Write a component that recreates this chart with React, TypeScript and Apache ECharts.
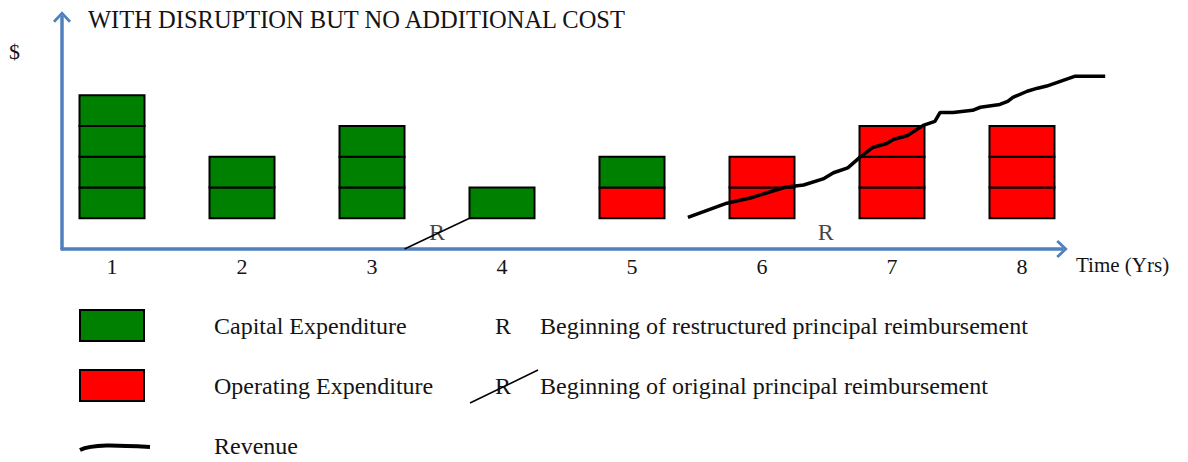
import React, { useEffect, useRef } from "react";
import * as echarts from "echarts";

// ---- data ----
const years = [1, 2, 3, 4, 5, 6, 7, 8];
const capitalBlocks = [4, 2, 3, 1, 1, 0, 0, 0];
const operatingBlocks = [0, 0, 0, 0, 1, 2, 3, 3];
const revenueX = [5.43, 5.73, 5.91, 6.19, 6.32, 6.47, 6.55, 6.66, 6.75, 6.85, 6.96, 7.01, 7.12, 7.24, 7.33, 7.37, 7.47, 7.62, 7.68, 7.83, 7.89, 7.93, 8.04, 8.12, 8.19, 8.41, 8.64];
const revenueY = [0.03, 0.49, 0.66, 1.02, 1.08, 1.28, 1.48, 1.64, 1.97, 2.3, 2.43, 2.56, 2.69, 3.02, 3.15, 3.44, 3.44, 3.51, 3.61, 3.7, 3.8, 3.93, 4.13, 4.23, 4.3, 4.62, 4.62];
const restructuredR = [6.49, -0.46];
const originalR = [3.5, -0.46];
const originalStrike = [[3.25, -1], [3.75, 0]];
const titleText = "WITH DISRUPTION BUT NO ADDITIONAL COST";
const xAxisName = "Time (Yrs)";
const legendLabels = ["Capital Expenditure", "Operating Expenditure", "Revenue"];
const rLabels = ["Beginning of restructured principal reimbursement", "Beginning of original principal reimbursement"];

const GREEN = "#008000";
const RED = "#FF0000";
const AXIS = "#4F81BD";
const TEXT = "#141414";
const FONT = "Liberation Serif";
const CHEVRON = "path://M0,0 L9,9.5 L7,11.5 L0,4 L-7,11.5 L-9,9.5 Z";
const LEG_FS = 24;

export default function App() {
  const ref = useRef<HTMLDivElement>(null);
  useEffect(() => {
    if (!ref.current) return;
    const chart = echarts.init(ref.current, undefined, { renderer: "svg" });
    const blockData = years.map((y, i) => [y, operatingBlocks[i], capitalBlocks[i]]);
    const axisLine = {
      show: true,
      onZero: false,
      symbol: ["none", CHEVRON],
      symbolSize: [18, 12],
      lineStyle: { color: AXIS, width: 3.5 },
    };
    const option: any = {
      animation: false,
      backgroundColor: "#ffffff",
      title: {
        text: titleText,
        left: 88,
        top: 7,
        padding: 0,
        textStyle: { fontFamily: FONT, fontSize: 24.5, fontWeight: "normal", color: TEXT },
      },
      grid: [
        { left: 62, right: 126, top: 17, bottom: 213 },
        // same scale, wider extent so the revenue curve can run past the arrow
        { left: 62, right: 78, top: 17, bottom: 213 },
      ],
      xAxis: [
        {
          type: "value",
          gridIndex: 0,
          min: 0.61538,
          max: 8.3077,
          name: xAxisName,
          nameLocation: "end",
          nameGap: 14,
          nameTextStyle: { fontFamily: FONT, fontSize: 21, color: TEXT, verticalAlign: "top", padding: [5, 0, 0, 0] },
          axisLine,
          axisTick: { show: false },
          splitLine: { show: false },
          axisLabel: { customValues: years, fontFamily: FONT, fontSize: 22, color: TEXT, margin: 6 },
        },
        {
          type: "value",
          gridIndex: 1,
          min: 0.61538,
          max: 0.61538 + 1048 / 130,
          show: false,
        },
      ],
      yAxis: [
        {
          type: "value",
          gridIndex: 0,
          min: -1,
          max: 6.545,
          axisLine,
          axisTick: { show: false },
          axisLabel: { show: false },
          splitLine: { show: false },
        },
        { type: "value", gridIndex: 1, min: -1, max: 6.545, show: false },
      ],
      series: [
        {
          type: "custom",
          name: "Expenditure",
          data: blockData,
          encode: { x: 0, y: 1 },
          z: 2,
          renderItem: (params: any, api: any) => {
            const x = api.value(0);
            const op = api.value(1);
            const cap = api.value(2);
            const size = api.size([0.5, 1]);
            const children: any[] = [];
            for (let k = 0; k < op + cap; k++) {
              const tl = api.coord([x - 0.25, k + 1]);
              children.push({
                type: "rect",
                shape: { x: tl[0], y: tl[1], width: size[0], height: size[1] },
                style: { fill: k < op ? RED : GREEN, stroke: "#000", lineWidth: 2 },
              });
            }
            return { type: "group", children };
          },
        },
        {
          type: "line",
          name: "Revenue",
          xAxisIndex: 1,
          yAxisIndex: 1,
          data: revenueX.map((x, i) => [x, revenueY[i]]),
          showSymbol: false,
          symbol: "none",
          clip: false,
          z: 5,
          lineStyle: { color: "#000", width: 3.5 },
        },
        {
          type: "line",
          name: "Original R",
          data: originalStrike,
          showSymbol: false,
          symbol: "none",
          clip: false,
          z: 4,
          lineStyle: { color: "#000", width: 1.5 },
        },
        {
          type: "scatter",
          name: "R",
          data: [originalR, restructuredR],
          symbolSize: 0,
          z: 3,
          label: { show: true, position: "inside", formatter: "R", fontFamily: FONT, fontSize: 24, color: TEXT },
        },
      ],
      graphic: [
        { type: "text", left: 9, top: 40, style: { text: "$", fontFamily: FONT, fontSize: 22, fill: TEXT } },
        { type: "rect", shape: { x: 80, y: 310, width: 64, height: 31 }, style: { fill: GREEN, stroke: "#000", lineWidth: 2 } },
        { type: "rect", shape: { x: 80, y: 370, width: 64, height: 31 }, style: { fill: RED, stroke: "#000", lineWidth: 2 } },
        { type: "bezierCurve", shape: { x1: 80, y1: 450, cpx1: 92, cpy1: 444, cpx2: 115, cpy2: 445, x2: 150, y2: 447 }, style: { stroke: "#000", lineWidth: 4, fill: "none" } },
        { type: "text", x: 214, y: 326, style: { text: legendLabels[0], fontFamily: FONT, fontSize: LEG_FS, fill: TEXT, verticalAlign: "middle" } },
        { type: "text", x: 214, y: 386, style: { text: legendLabels[1], fontFamily: FONT, fontSize: LEG_FS, fill: TEXT, verticalAlign: "middle" } },
        { type: "text", x: 214, y: 446, style: { text: legendLabels[2], fontFamily: FONT, fontSize: LEG_FS, fill: TEXT, verticalAlign: "middle" } },
        { type: "text", x: 503, y: 326, style: { text: "R", fontFamily: FONT, fontSize: LEG_FS, fill: TEXT, align: "center", verticalAlign: "middle" } },
        { type: "text", x: 503, y: 386, style: { text: "R", fontFamily: FONT, fontSize: LEG_FS, fill: TEXT, align: "center", verticalAlign: "middle" } },
        { type: "line", shape: { x1: 470, y1: 403, x2: 538, y2: 370 }, style: { stroke: "#000", lineWidth: 1.5 } },
        { type: "text", x: 540, y: 326, style: { text: rLabels[0], fontFamily: FONT, fontSize: LEG_FS, fill: TEXT, verticalAlign: "middle" } },
        { type: "text", x: 540, y: 386, style: { text: rLabels[1], fontFamily: FONT, fontSize: LEG_FS, fill: TEXT, verticalAlign: "middle" } },
      ],
    };
    chart.setOption(option);
    return () => chart.dispose();
  }, []);
  return (
    <div
      ref={ref}
      style={{ position: "absolute", left: 0, top: 0, width: 1188, height: 462, background: "#fff" }}
    />
  );
}
